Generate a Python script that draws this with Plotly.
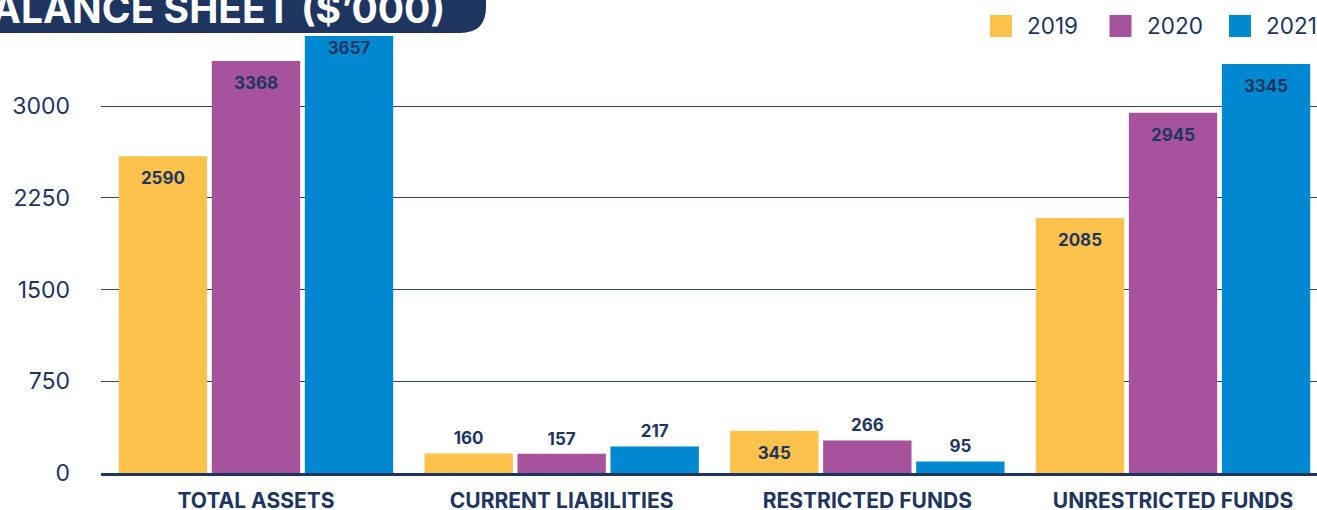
import plotly.graph_objects as go

categories = ["TOTAL ASSETS", "CURRENT LIABILITIES", "RESTRICTED FUNDS", "UNRESTRICTED FUNDS"]
years = ["2019", "2020", "2021"]
values_2019 = [2590, 160, 345, 2085]
values_2020 = [3368, 157, 266, 2945]
values_2021 = [3657, 217, 95, 3345]
y_ticks = [0, 750, 1500, 2250, 3000]
title_text = "BALANCE SHEET ($’000)"

series = [values_2019, values_2020, values_2021]
colors = ["#FDC24C", "#A6529C", "#0089D1"]
NAVY = "#1E3560"
FONT = "Inter"

W, H = 1317, 510
ML, MR, MT, MB = 101, 0, 20, 37
PW, PH = W - ML - MR, H - MT - MB
GAP = 0.087
INSIDE_MIN = 300  # labels go inside bars taller than this


def px_x(px):
    return (px - ML) / PW


def px_y(py):
    return (H - MB - py) / PH


fig = go.Figure()
for name, vals, col in zip(years, series, colors):
    fig.add_trace(go.Bar(
        x=categories, y=vals, name=name, marker=dict(color=col, line=dict(width=0)),
        showlegend=False, hoverinfo="x+y+name",
    ))
for name, vals in zip(years, series):
    inside = [v > INSIDE_MIN for v in vals]
    fig.add_trace(go.Scatter(
        x=categories, y=vals, name=name, mode="markers+text",
        marker=dict(size=[23 if f else 6 for f in inside], opacity=0),
        text=[str(v) for v in vals],
        textposition=["bottom center" if f else "top center" for f in inside],
        textfont=dict(family=FONT, size=17, color=NAVY, weight=700),
        cliponaxis=False, showlegend=False, hoverinfo="skip",
    ))

# white strip that crops the chart top just under the title box
fig.add_shape(type="rect", xref="paper", yref="paper",
              x0=0, x1=px_x(486), y0=px_y(36), y1=1.0,
              fillcolor="white", line=dict(width=0), layer="above")

# title box with rounded right corner
x0, x1 = px_x(-30), px_x(486)
yb, yt = px_y(33), px_y(-30)
r = 26
fig.add_shape(
    type="path", xref="paper", yref="paper",
    path=(f"M {x0} {yt} L {x1} {yt} L {x1} {px_y(33 - r)} "
          f"Q {x1} {yb} {px_x(486 - r)} {yb} L {x0} {yb} Z"),
    fillcolor=NAVY, line=dict(width=0), layer="above",
)
fig.add_annotation(
    xref="paper", yref="paper", x=px_x(447), y=px_y(8), xanchor="right", yanchor="middle",
    text=f"<b>{title_text}</b>", showarrow=False,
    font=dict(family=FONT, size=39, color="white"),
)

# manual legend
for i, (name, col) in enumerate(zip(years, colors)):
    sx = 990 + i * 119.5
    fig.add_shape(type="rect", xref="paper", yref="paper",
                  x0=px_x(sx), x1=px_x(sx + 22), y0=px_y(37), y1=px_y(15),
                  fillcolor=col, line=dict(width=0))
    fig.add_annotation(xref="paper", yref="paper", x=px_x(sx + 35), y=px_y(26),
                       xanchor="left", yanchor="middle", text=name, showarrow=False,
                       font=dict(family=FONT, size=22.5, color=NAVY))

fig.update_layout(
    width=W, height=H,
    margin=dict(l=ML, r=MR, t=MT, b=MB, autoexpand=False),
    paper_bgcolor="white", plot_bgcolor="white",
    barmode="group", bargap=GAP, bargroupgap=0.05,
    scattermode="group", scattergap=GAP,
    showlegend=False,
    font=dict(family=FONT, color=NAVY),
)
fig.update_xaxes(
    range=[-0.507, 3.471], showgrid=False, zeroline=False,
    showline=True, linecolor=NAVY, linewidth=2.5,
    tickfont=dict(family=FONT, size=21, color=NAVY, weight=700),
    ticks="", ticklabelstandoff=7, automargin=False,
)
fig.update_yaxes(
    range=[0, 3704], tickvals=y_ticks, showgrid=True, gridcolor="#2E4669", gridwidth=1.2,
    zeroline=False, showline=False,
    tickfont=dict(family=FONT, size=23, color=NAVY),
    ticks="", ticklabelstandoff=30, automargin=False,
)

fig.write_html("out.html")
